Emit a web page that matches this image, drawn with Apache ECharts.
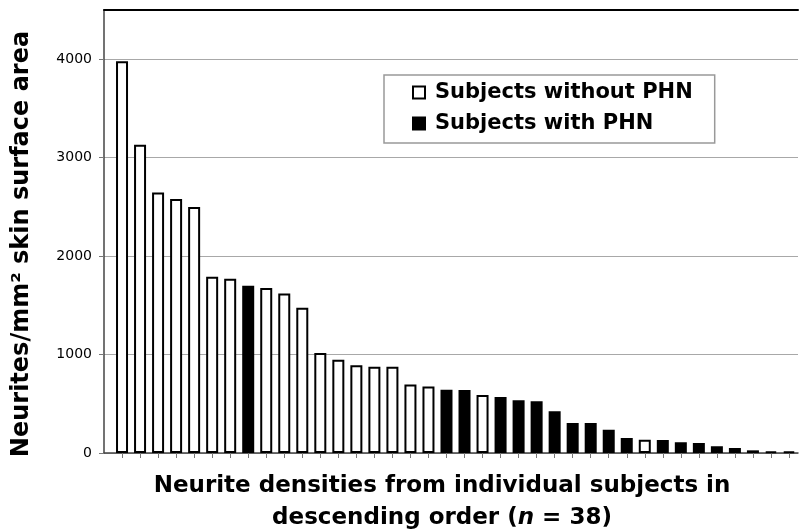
<!DOCTYPE html>
<html>
<head>
<meta charset="utf-8">
<script src="https://cdn.jsdelivr.net/npm/echarts@6/dist/echarts.min.js"></script>
<style>html,body{margin:0;padding:0;background:#fff}#c{width:799px;height:530px}</style>
</head>
<body>
<div id="c"></div>
<script>
// Subjects in descending order of neurite density
const subjectRank = [1,2,3,4,5,6,7,8,9,10,11,12,13,14,15,16,17,18,19,20,21,22,23,24,25,26,27,28,29,30,31,32,33,34,35,36,37,38];
const neuriteDensity = [3980,3130,2645,2580,2500,1790,1770,1700,1675,1620,1475,1017,948,892,875,875,696,676,642,639,588,568,537,525,423,304,304,236,152,135,132,108,101,68,51,27,15,15];
// 0 = without PHN, 1 = with PHN
const hasPHN = [0,0,0,0,0,0,0,1,0,0,0,0,0,0,0,0,0,0,1,1,0,1,1,1,1,1,1,1,1,0,1,1,1,1,1,1,1,1];
const seriesNames = ['Subjects without PHN', 'Subjects with PHN'];
const yTickValues = [0, 1000, 2000, 3000, 4000];

const FONT = 'DejaVu Sans';

function groupData(g) {
  const out = [];
  for (let i = 0; i < subjectRank.length; i++) {
    if (hasPHN[i] === g) out.push([subjectRank[i], neuriteDensity[i]]);
  }
  return out;
}

const chart = echarts.init(document.getElementById('c'), null, {renderer: 'canvas'});
chart.setOption({
  animation: false,
  backgroundColor: '#fff',
  grid: {left: 104, right: 1, top: 10, bottom: 77, containLabel: false, outerBoundsMode: 'none'},
  legend: {
    data: seriesNames,
    orient: 'vertical',
    left: 384,
    top: 75,
    selectedMode: false,
    icon: 'rect',
    itemWidth: 12,
    itemHeight: 12,
    itemGap: 10,
    padding: [7, 22, 9, 28],
    borderColor: '#999',
    borderWidth: 1.5,
    textStyle: {fontFamily: FONT, fontWeight: 'bold', fontSize: 21, color: '#000', padding: [0, 0, 0, 5]}
  },
  xAxis: [{
    type: 'value',
    min: 0,
    max: 38.5,
    interval: 1,
    position: 'bottom',
    axisLine: {show: true, lineStyle: {color: '#444', width: 1.5}},
    axisTick: {show: true, length: 5, lineStyle: {color: '#777', width: 1}, customValues: subjectRank},
    axisLabel: {show: false},
    splitLine: {show: false},
    name: 'Neurite densities from individual subjects in\ndescending order ({it|n} = 38)',
    nameLocation: 'middle',
    nameGap: 17,
    nameTextStyle: {
      fontFamily: FONT, fontWeight: 'bold', fontSize: 23, lineHeight: 32, color: '#000',
      padding: [0, 18, 0, 0],
      rich: {it: {fontFamily: FONT, fontWeight: 'bold', fontStyle: 'italic', fontSize: 23, lineHeight: 32, color: '#000'}}
    }
  }, {
    type: 'value',
    min: 0,
    max: 38.5,
    position: 'top',
    axisLine: {show: true, lineStyle: {color: '#000', width: 2}},
    axisTick: {show: false},
    axisLabel: {show: false},
    splitLine: {show: false}
  }],
  yAxis: {
    type: 'value',
    min: 0,
    max: 4500,
    interval: 1000,
    axisLine: {show: true, lineStyle: {color: '#444', width: 1.5}},
    axisTick: {show: true, length: 5, lineStyle: {color: '#777'}, customValues: yTickValues},
    axisLabel: {fontFamily: FONT, fontSize: 14, color: '#000', margin: 12, customValues: yTickValues,
      formatter: function (v) { return String(v); }},
    splitLine: {show: true, lineStyle: {color: '#a8a8a8', width: 1}},
    name: 'Neurites/mm\u00B2 skin surface area',
    nameLocation: 'middle',
    nameGap: 70,
    nameTextStyle: {fontFamily: FONT, fontWeight: 'bold', fontSize: 24, color: '#000', padding: [0, 25, 0, 0]}
  },
  series: [{
    name: seriesNames[0],
    type: 'bar',
    xAxisIndex: 0,
    barWidth: 12,
    barGap: '-100%',
    itemStyle: {color: '#fff', borderColor: '#000', borderWidth: 2},
    data: groupData(0)
  }, {
    name: seriesNames[1],
    type: 'bar',
    xAxisIndex: 0,
    barWidth: 12,
    barGap: '-100%',
    itemStyle: {color: '#000', borderColor: '#000', borderWidth: 2},
    data: groupData(1)
  }]
});
</script>
</body>
</html>
